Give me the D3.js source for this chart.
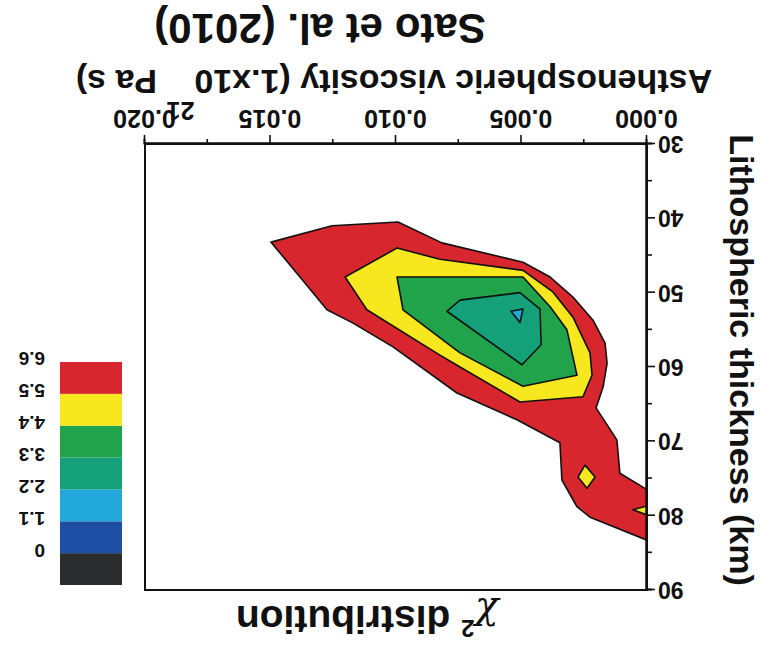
<!DOCTYPE html>
<html>
<head>
<meta charset="utf-8">
<script src="https://cdn.jsdelivr.net/npm/d3@7"></script>
<style>
  body { margin: 0; background: #fff; }
  text { font-family: "Liberation Sans", Arial, Helvetica, sans-serif; font-weight: bold; }
</style>
</head>
<body>
<script>
// chart values (viscosity in 1e21 Pa s, thickness in km)
var xTicks = [0, 0.005, 0.01, 0.015, 0.02];
var xMinor = [0.0025, 0.0075, 0.0125, 0.0175];
var yTicks = [30, 40, 50, 60, 70, 80, 90];
var yMinor = [35, 45, 55, 65, 75, 85];

var levelBounds = [-1.1, 0, 1.1, 2.2, 3.3, 4.4, 5.5, 6.6];
var levelLabels = ["0", "1.1", "2.2", "3.3", "4.4", "5.5", "6.6"];
var levelColors = ["#2b2c2e", "#1f4fa5", "#22a8db", "#14a078", "#20a34b", "#f6e71e", "#d7262d"];

// contour regions: [viscosity, thickness]
var redRegion = [
  [0.01498, 43.2], [0.01255, 41.0], [0.00992, 40.5], [0.00817, 43.3], [0.00494, 45.9],
  [0.00386, 47.9], [0.00295, 50.6], [0.00215, 53.7], [0.00167, 56.8], [0.00159, 59.5],
  [0.00175, 62.7], [0.00203, 65.5], [0.0012, 69.8], [0.00108, 74.3], [0, 76.5],
  [0, 83.3], [0.00227, 80.2], [0.00279, 78.8], [0.00339, 75.2], [0.00347, 70.2],
  [0.00518, 67.1], [0.00757, 63.5], [0.01012, 57.3], [0.01171, 54.1], [0.01275, 52.3],
  [0.0139, 47.6]
];
var yellowRegion = [
  [0.01203, 47.9], [0.00996, 44.0], [0.00825, 45.5], [0.00494, 47.0], [0.00375, 49.9],
  [0.00295, 53.3], [0.00227, 58.1], [0.00219, 61.1], [0.00255, 64.0], [0.00506, 64.7],
  [0.00745, 60.0], [0.00825, 58.4], [0.01116, 52.3]
];
var yellowDiamond = [[0.00247, 73.2], [0.00207, 74.8], [0.00239, 76.3], [0.00275, 74.8]];
var yellowEdge = [[0.00056, 79.2], [0, 78.7], [0, 79.9]];
var greenRegion = [
  [0.00996, 47.9], [0.00494, 47.9], [0.00386, 51.9], [0.00319, 55.0], [0.00279, 61.1],
  [0.00494, 62.6], [0.00745, 58.1], [0.00972, 52.3]
];
var tealRegion = [
  [0.00797, 52.5], [0.00745, 51.0], [0.00506, 50.0], [0.00426, 52.2], [0.00422, 57.0],
  [0.00498, 59.7]
];
var cyanRegion = [[0.00542, 52.5], [0.00494, 52.2], [0.00506, 54.0]];

var W = 764, H = 660;
var svg = d3.select("body").append("svg").attr("width", W).attr("height", H);
svg.append("rect").attr("width", W).attr("height", H).attr("fill", "#fff");

// the whole figure is shown turned upside down
var g = svg.append("g").attr("transform", "rotate(180," + W / 2 + "," + H / 2 + ")");

var x = d3.scaleLinear().domain([0, 0.02]).range([117, 619]);
var y = d3.scaleLinear().domain([30, 90]).range([516, 70]);

g.append("clipPath").attr("id", "plotclip")
  .append("rect").attr("x", 117).attr("y", 70).attr("width", 502).attr("height", 446);

var line = d3.line().x(function (d) { return x(d[0]); }).y(function (d) { return y(d[1]); })
  .curve(d3.curveLinearClosed);

var regions = [
  { pts: redRegion, c: levelColors[6] },
  { pts: yellowRegion, c: levelColors[5] },
  { pts: yellowDiamond, c: levelColors[5] },
  { pts: yellowEdge, c: levelColors[5] },
  { pts: greenRegion, c: levelColors[4] },
  { pts: tealRegion, c: levelColors[3] },
  { pts: cyanRegion, c: levelColors[2] }
];
g.append("g").attr("clip-path", "url(#plotclip)")
  .selectAll("path").data(regions).enter().append("path")
  .attr("d", function (d) { return line(d.pts); })
  .attr("fill", function (d) { return d.c; })
  .attr("stroke", "#111").attr("stroke-width", 1.6).attr("stroke-linejoin", "round");

// frame
g.append("rect").attr("x", 117).attr("y", 70).attr("width", 502).attr("height", 446)
  .attr("fill", "none").attr("stroke", "#111").attr("stroke-width", 2);

// axes
var xAxis = d3.axisBottom(x).tickValues(xTicks).tickFormat(d3.format(".3f"))
  .tickSizeInner(9).tickSizeOuter(0).tickPadding(7);
var gx = g.append("g").attr("transform", "translate(0,516)").call(xAxis);
g.append("g").attr("transform", "translate(0,516)")
  .call(d3.axisBottom(x).tickValues(xMinor).tickSize(5).tickFormat(""));

var yAxis = d3.axisLeft(y).tickValues(yTicks).tickSizeInner(8).tickSizeOuter(0).tickPadding(3);
var gy = g.append("g").attr("transform", "translate(117,0)").call(yAxis);
g.append("g").attr("transform", "translate(117,0)")
  .call(d3.axisLeft(y).tickValues(yMinor).tickSize(5).tickFormat(""));

g.selectAll(".domain").attr("stroke", "#111").attr("stroke-width", 2);
g.selectAll(".tick line").attr("stroke", "#111").attr("stroke-width", 1.6);
g.selectAll(".tick text").attr("fill", "#111")
  .style("font-family", "'Liberation Sans', Arial, sans-serif").style("font-weight", "bold");
gx.selectAll(".tick text").style("font-size", "25px");
gy.selectAll(".tick text").style("font-size", "23px");

// axis titles
var xt = g.append("text").attr("x", 370).attr("y", 590).attr("text-anchor", "middle")
  .style("font-size", "34px").attr("fill", "#111");
xt.append("tspan").text("Asthenospheric viscosity (1.x10");
xt.append("tspan").attr("dy", -32).style("font-size", "25px").text("21");
xt.append("tspan").attr("dy", 32).text(" Pa s)");

g.append("text").attr("transform", "translate(34,300) rotate(-90)").attr("text-anchor", "middle")
  .style("font-size", "34px").attr("fill", "#111").text("Lithospheric thickness (km)");

g.append("text").attr("x", 444).attr("y", 646).attr("text-anchor", "middle")
  .style("font-size", "42px").attr("fill", "#111").text("Sato et al. (2010)");

// legend
var ly = d3.scaleLinear().domain([-1.1, 6.6]).range([75, 298]);
var lg = g.append("g");
lg.selectAll("rect").data(levelColors).enter().append("rect")
  .attr("x", 642).attr("width", 62)
  .attr("y", function (d, i) { return ly(levelBounds[i]); })
  .attr("height", function (d, i) { return ly(levelBounds[i + 1]) - ly(levelBounds[i]); })
  .attr("fill", function (d) { return d; });
lg.selectAll("text").data(levelLabels).enter().append("text")
  .attr("x", 719)
  .attr("y", function (d, i) { return ly(levelBounds[i + 1]) + 3; })
  .attr("dy", "0.35em").style("font-size", "19px").attr("fill", "#111")
  .text(function (d) { return d; });

var ct = g.append("text").attr("x", 397).attr("y", 54).attr("text-anchor", "middle")
  .style("font-size", "39px").attr("fill", "#111");
ct.append("tspan").style("font-family", "'DejaVu Serif', serif").style("font-style", "italic")
  .style("font-weight", "normal").text("\u03c7");
ct.append("tspan").attr("dy", -14).style("font-size", "24px").text("2");
ct.append("tspan").attr("dy", 14).text(" distribution");
</script>
</body>
</html>
